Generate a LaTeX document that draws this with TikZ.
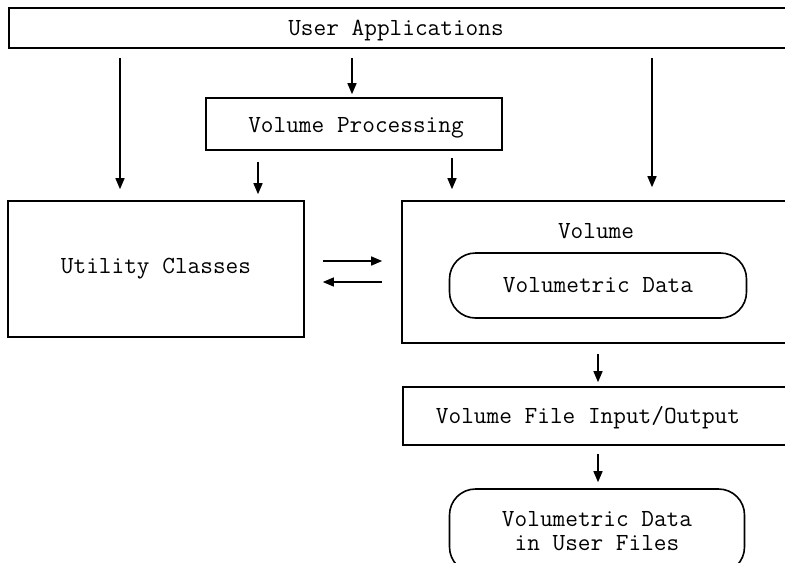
\documentclass[tikz,border=0pt]{standalone}
\usetikzlibrary{arrows.meta,positioning}

\tikzset{
  box/.style={draw, line width=0.8pt, inner sep=0pt},
  rbox/.style={box, rounded corners=13pt},
  arr/.style={-{Triangle[length=5.5pt,width=4.5pt]}, line width=0.7pt,
    shorten <=4.5pt, shorten >=5.5pt},
}

\begin{document}
\begin{tikzpicture}[x=0.5pt,y=-0.5pt,font=\fontsize{12.3}{12}\selectfont\ttfamily]
  \useasboundingbox (0,0) rectangle (785,562);
  \clip (0,0) rectangle (785,562);

  % top layer
  \node[box, minimum width=400pt, minimum height=20pt, anchor=west] (app) at (8,28) {};
  \node (apptxt) at (396,31) {User Applications};
  \node[box, minimum width=148pt, minimum height=26pt] (proc) at (354,124) {};
  \node (proctxt) at (356,128) {Volume Processing};

  % middle layer
  \node[box, minimum width=148pt, minimum height=68pt] (util) at (156,269) {Utility Classes};
  \node[box, minimum width=195pt, minimum height=71pt] (vol) at (597,272) {};
  \node (voltxt) at (596,231) {Volume};
  \node[rbox, minimum width=148.5pt, minimum height=32.5pt] (vdata) at (598,285.5) {Volumetric Data};

  % bottom layer
  \node[box, minimum width=200pt, minimum height=29pt, anchor=west] (vfio) at (402,416) {};
  \node (vfiotxt) at (588,418) {Volume File Input/Output};
  \node[rbox, minimum width=147.5pt, minimum height=42pt, align=center] (udata) at (597,531)
    {Volumetric Data\\in User Files};

  % arrow columns and rows
  \coordinate (c1) at (120,0);
  \coordinate (c2) at (352,0);
  \coordinate (c3) at (652,0);
  \coordinate (c4) at (258,0);
  \coordinate (c5) at (452,0);
  \coordinate (c6) at (598,0);
  \coordinate (r1) at (0,261);
  \coordinate (r2) at (0,282);

  \draw[arr] (app.south -| c1) -- (util.north -| c1);
  \draw[arr, shorten >=1.5pt] (app.south -| c2) -- (proc.north -| c2);
  \draw[arr, shorten >=6.5pt] (app.south -| c3) -- (vol.north -| c3);
  \draw[arr, shorten <=5.5pt, shorten >=3pt] (proc.south -| c4) -- (util.north -| c4);
  \draw[arr, shorten <=3.5pt] (proc.south -| c5) -- (vol.north -| c5);
  \draw[arr, shorten <=9pt, shorten >=9.5pt] (util.east |- r1) -- (vol.west |- r1);
  \draw[arr, shorten <=9.5pt, shorten >=9pt] (vol.west |- r2) -- (util.east |- r2);
  \draw[arr, shorten <=5pt, shorten >=2pt] (vol.south -| c6) -- (vfio.north -| c6);
  \draw[arr, shorten <=4pt, shorten >=3pt] (vfio.south -| c6) -- (udata.north -| c6);
\end{tikzpicture}
\end{document}
